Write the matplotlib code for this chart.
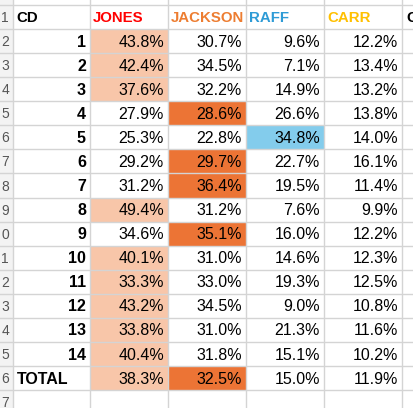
import matplotlib
matplotlib.use("Agg")
import matplotlib.pyplot as plt
from matplotlib.patches import Rectangle

headers = ["CD", "JONES", "JACKSON", "RAFF", "CARR"]
header_colors = ["black", "#FF0000", "#ED7D31", "#2E9BD6", "#FFC000"]
cds = ["1","2","3","4","5","6","7","8","9","10","11","12","13","14","TOTAL"]
jones = [43.8,42.4,37.6,27.9,25.3,29.2,31.2,49.4,34.6,40.1,33.3,43.2,33.8,40.4,38.3]
jackson = [30.7,34.5,32.2,28.6,22.8,29.7,36.4,31.2,35.1,31.0,33.0,34.5,31.0,31.8,32.5]
raff = [9.6,7.1,14.9,26.6,34.8,22.7,19.5,7.6,16.0,14.6,19.3,9.0,21.3,15.1,15.0]
carr = [12.2,13.4,13.2,13.8,14.0,16.1,11.4,9.9,12.2,12.3,12.5,10.8,11.6,10.2,11.9]
jones_light = [1,1,1,0,0,0,0,1,0,1,1,1,1,1,1]
jackson_dark = [0,0,0,1,0,1,1,0,1,0,0,0,0,0,1]
raff_blue = [0,0,0,0,1,0,0,0,0,0,0,0,0,0,0]

W, H = 414, 408
fig = plt.figure(figsize=(W/100, H/100), dpi=100)
ax = fig.add_axes([0, 0, 1, 1])
ax.set_xlim(0, W); ax.set_ylim(H, 0); ax.axis("off")

colx = [13, 90, 168, 246, 324, 402, 480]
top = 5; rh = 24.07
nrows = len(cds) + 2
grid = "#D4D4D4"
fnt = "Liberation Sans"

def ry(i):  # i=0 header
    return top + i * rh

cols = [jones, jackson, raff, carr]
fills = [(jones_light, "#F8C6A9"), (jackson_dark, "#EC7435"), (raff_blue, "#83CCEC"), (None, None)]
for r in range(len(cds)):
    y0 = ry(r + 1)
    for c, (flags, col) in enumerate(fills):
        if flags and flags[r]:
            ax.add_patch(Rectangle((colx[c+1], y0), colx[c+2]-colx[c+1], rh, color=col, lw=0, zorder=1))

for i in range(nrows + 1):
    ax.plot([0, W], [ry(i), ry(i)], color=grid, lw=1, zorder=2)
for x in colx[:6]:
    ax.plot([x, x], [0, H], color=grid, lw=1, zorder=2)
ax.add_patch(Rectangle((0, 0), 13, H, color="#F3F3F3", lw=0, zorder=0))

for c, h in enumerate(headers):
    ax.text(colx[c] + 3, ry(0) + rh/2 + 1, h, color=header_colors[c], fontsize=10.8,
            fontweight="bold", family=fnt, va="center", ha="left", zorder=3)
ax.text(colx[5] + 4, ry(0) + rh/2 + 1, "C", fontsize=10.8, fontweight="bold", family=fnt,
        va="center", ha="left", zorder=3)

for r, cd in enumerate(cds):
    yc = ry(r + 1) + rh/2 + 1
    if cd == "TOTAL":
        ax.text(colx[0] + 4, yc, cd, fontsize=11.5, fontweight="bold", family=fnt, va="center", ha="left", zorder=3)
    else:
        ax.text(colx[1] - 4, yc, cd, fontsize=11.5, fontweight="bold", family=fnt, va="center", ha="right", zorder=3)
    for c, vals in enumerate(cols):
        ax.text(colx[c+2] - 4, yc, f"{vals[r]:.1f}%", fontsize=11.5, family=fnt, va="center", ha="right", zorder=3)

for i in range(nrows):
    n = str(i + 1)
    ax.text(9, ry(i) + rh/2 + 1, n[-1], fontsize=10, color="#555555", family=fnt, va="center", ha="right", zorder=3)

fig.savefig("out.png", dpi=100)
